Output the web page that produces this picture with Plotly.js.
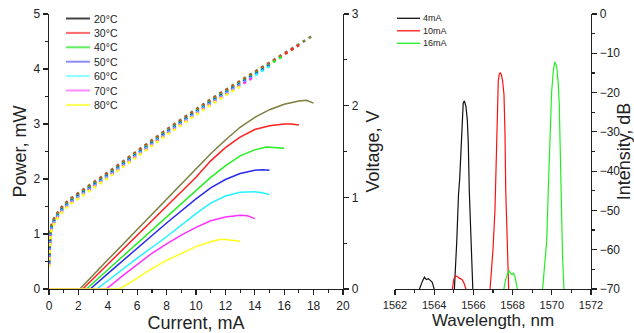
<!DOCTYPE html>
<html>
<head>
<meta charset="utf-8">
<script src="https://cdn.plot.ly/plotly-3.0.1.min.js"></script>
<style>html,body{margin:0;padding:0;background:#fff;}#chart{width:634px;height:333px;}</style>
</head>
<body>
<div id="chart"></div>
<script>
// ---------- Left panel: L-I curves ----------
const temps = ['20°C', '30°C', '40°C', '50°C', '60°C', '70°C', '80°C'];
const curveColors = ['#7d7d3e', '#ff2020', '#22ee22', '#2a2aee', '#22f2ff', '#ff30ff', '#ffff1a'];
const legendColors = ['#444444', '#ff6a6a', '#5fee5f', '#8c8cff', '#8cffff', '#ff8cff', '#ffff55'];

const I_20 = [0, 2.1, 4, 6, 8, 10, 11, 12, 13, 14, 15, 16, 17, 17.5, 18];
const P_20 = [0, 0, 0.53, 1.08, 1.63, 2.19, 2.46, 2.71, 2.94, 3.12, 3.26, 3.36, 3.42, 3.43, 3.38];
const I_30 = [0, 2.3, 4, 6, 8, 10, 11, 12, 13, 14, 15, 16, 16.5, 17];
const P_30 = [0, 0, 0.45, 0.98, 1.51, 2.03, 2.33, 2.57, 2.76, 2.9, 2.97, 3.0, 3.0, 2.98];
const I_40 = [0, 2.55, 4, 6, 8, 10, 11, 12, 13, 14, 14.8, 15.5, 16];
const P_40 = [0, 0, 0.35, 0.83, 1.32, 1.8, 2.03, 2.24, 2.42, 2.53, 2.58, 2.57, 2.56];
const I_50 = [0, 2.8, 4, 6, 8, 10, 11, 12, 13, 14, 14.5, 15];
const P_50 = [0, 0, 0.28, 0.74, 1.2, 1.64, 1.84, 1.99, 2.1, 2.16, 2.17, 2.16];
const I_60 = [0, 3.24, 4, 6, 8, 10, 11, 12, 13, 14, 14.5, 15];
const P_60 = [0, 0, 0.15, 0.56, 0.95, 1.37, 1.56, 1.69, 1.76, 1.77, 1.75, 1.72];
const I_70 = [0, 3.9, 5, 6, 7, 8, 9, 10, 11, 12, 13, 13.5, 14];
const P_70 = [0, 0, 0.24, 0.45, 0.65, 0.82, 0.98, 1.12, 1.24, 1.31, 1.34, 1.33, 1.28];
const I_80 = [0, 4.78, 5.5, 6, 7, 8, 9, 10, 11, 11.6, 12, 13];
const P_80 = [0, 0, 0.11, 0.2, 0.37, 0.52, 0.65, 0.77, 0.86, 0.9, 0.9, 0.87];

// Voltage (V-I) curves
const I_V = [0, 0.05, 0.1, 0.2, 0.4, 0.7, 1, 1.5, 2, 3, 4, 5, 6, 7, 8, 9, 10, 11, 12, 13, 14, 15, 16, 17, 18];
const V_20 = [0.30, 0.55, 0.65, 0.72, 0.79, 0.86, 0.92, 0.99, 1.05, 1.16, 1.27, 1.39, 1.51, 1.63, 1.74, 1.85, 1.96, 2.07, 2.17, 2.27, 2.37, 2.47, 2.57, 2.67, 2.77];
const V_30 = [0.29, 0.54, 0.64, 0.71, 0.78, 0.85, 0.91, 0.98, 1.04, 1.15, 1.26, 1.38, 1.50, 1.62, 1.73, 1.84, 1.95, 2.06, 2.16, 2.26, 2.36, 2.46, 2.56, 2.66];
const V_40 = [0.28, 0.53, 0.63, 0.70, 0.77, 0.84, 0.90, 0.97, 1.03, 1.14, 1.25, 1.37, 1.49, 1.61, 1.72, 1.83, 1.94, 2.05, 2.15, 2.25, 2.35, 2.45, 2.55];
const V_50 = [0.27, 0.52, 0.62, 0.69, 0.76, 0.83, 0.89, 0.96, 1.02, 1.13, 1.24, 1.36, 1.48, 1.60, 1.71, 1.82, 1.93, 2.04, 2.14, 2.24, 2.34, 2.44];
const V_60 = [0.26, 0.51, 0.61, 0.68, 0.75, 0.82, 0.88, 0.95, 1.01, 1.12, 1.23, 1.35, 1.47, 1.59, 1.70, 1.81, 1.92, 2.03, 2.13, 2.23, 2.33, 2.43];
const V_70 = [0.25, 0.50, 0.60, 0.67, 0.74, 0.81, 0.87, 0.94, 1.00, 1.11, 1.22, 1.34, 1.46, 1.58, 1.69, 1.80, 1.91, 2.02, 2.12, 2.22, 2.32];
const V_80 = [0.24, 0.49, 0.59, 0.66, 0.73, 0.80, 0.86, 0.93, 0.99, 1.10, 1.21, 1.33, 1.45, 1.57, 1.68, 1.79, 1.90, 2.01, 2.11, 2.21];

// ---------- Right panel: spectra ----------
const currents = ['4mA', '10mA', '16mA'];
const specColors = ['#111111', '#ff1010', '#22ee22'];
const WL_4 = [1563.1, 1563.25, 1563.4, 1563.5, 1563.6, 1563.7, 1563.8, 1563.9, 1564.0, 1564.1, 1564.9, 1565.03, 1565.15, 1565.2, 1565.24, 1565.3, 1565.4, 1565.48, 1565.54, 1565.62, 1565.69, 1565.74, 1565.79, 1565.88, 1565.97, 1566.1];
const DB_4 = [-74, -70, -68, -67, -67.6, -67.4, -67.8, -68.3, -70, -74, -74, -70, -58, -48, -46, -42, -29, -22.7, -22.1, -23.6, -27, -33, -45, -58, -70, -74];
const WL_10 = [1564.8, 1564.9, 1565.0, 1565.1, 1565.18, 1565.3, 1565.42, 1565.52, 1565.62, 1565.75, 1566.7, 1566.85, 1567.0, 1567.1, 1567.2, 1567.27, 1567.32, 1567.37, 1567.43, 1567.49, 1567.56, 1567.61, 1567.65, 1567.72, 1567.8, 1567.95];
const DB_10 = [-74, -70, -67.5, -66.7, -66.8, -67.3, -67.6, -68.5, -70, -74, -74, -70, -60, -50, -30, -17, -15.3, -14.9, -15.5, -17, -20.5, -30, -45, -60, -70, -74];
const WL_16 = [1567.4, 1567.53, 1567.65, 1567.75, 1567.82, 1567.9, 1567.97, 1568.05, 1568.13, 1568.24, 1568.35, 1569.4, 1569.53, 1569.65, 1569.74, 1569.82, 1569.92, 1569.99, 1570.08, 1570.16, 1570.25, 1570.33, 1570.38, 1570.42, 1570.47, 1570.55, 1570.62, 1570.75];
const DB_16 = [-74, -70, -67.5, -66, -65.4, -66, -66.3, -66, -67, -70, -74, -74, -70, -63, -58, -45, -30, -20, -14.3, -12.2, -13.4, -17.6, -23, -32, -50, -62, -70, -74];

const FONT = 'Liberation Sans, Arial, sans-serif';

const LI_I = [I_20, I_30, I_40, I_50, I_60, I_70, I_80];
const LI_P = [P_20, P_30, P_40, P_50, P_60, P_70, P_80];
const VI_V = [V_20, V_30, V_40, V_50, V_60, V_70, V_80];
const WLs = [WL_4, WL_10, WL_16];
const DBs = [DB_4, DB_10, DB_16];

const traces = [];
VI_V.forEach((v, i) => {
  traces.push({
    x: I_V.slice(0, v.length), y: v, xaxis: 'x', yaxis: 'y2', type: 'scatter', mode: 'lines',
    line: {color: curveColors[i], width: 2.6, dash: '3px,4px'}, showlegend: false, hoverinfo: 'skip'
  });
});
LI_I.forEach((xs, i) => {
  traces.push({
    x: xs, y: LI_P[i], xaxis: 'x', yaxis: 'y', type: 'scatter', mode: 'lines',
    line: {color: curveColors[i], width: 1.5}, name: temps[i], showlegend: false
  });
});
WLs.forEach((xs, i) => {
  traces.push({
    x: xs, y: DBs[i], xaxis: 'x3', yaxis: 'y3', type: 'scatter', mode: 'lines',
    line: {color: specColors[i], width: 1.2}, name: currents[i], showlegend: false
  });
});

// Manual legends (shapes + annotations, in pixel-derived paper coords)
const W = 634, H = 333;
const shapes = [], annotations = [];
temps.forEach((t, i) => {
  const yp = 1 - (18.5 + 14.4 * i) / H;
  shapes.push({type: 'line', xref: 'paper', yref: 'paper', x0: 66 / W, x1: 90 / W, y0: yp, y1: yp,
    line: {color: legendColors[i], width: 2}});
  annotations.push({xref: 'paper', yref: 'paper', x: 92 / W, y: yp, xanchor: 'left', yanchor: 'middle',
    text: t, showarrow: false, font: {family: FONT, size: 10.5, color: '#222'}});
});
currents.forEach((c, i) => {
  const yp = 1 - (18.3 + 12.5 * i) / H;
  shapes.push({type: 'line', xref: 'paper', yref: 'paper', x0: 397 / W, x1: 420 / W, y0: yp, y1: yp,
    line: {color: specColors[i], width: 1.3}});
  annotations.push({xref: 'paper', yref: 'paper', x: 421 / W, y: yp, xanchor: 'left', yanchor: 'middle',
    text: c, showarrow: false, font: {family: FONT, size: 9, color: '#222'}});
});

const yDom = [44 / H, 319 / H];
const axBase = {
  showline: true, linecolor: '#222', linewidth: 1.3, ticks: 'outside', tickcolor: '#222', tickwidth: 1.2,
  ticklen: 5, showgrid: false, zeroline: false, automargin: false,
  tickfont: {family: FONT, size: 12, color: '#222'}
};

const layout = {
  width: W, height: H, margin: {l: 0, r: 0, t: 0, b: 0},
  paper_bgcolor: '#fff', plot_bgcolor: 'rgba(0,0,0,0)', showlegend: false,
  font: {family: FONT, color: '#222'},
  xaxis: Object.assign({}, axBase, {domain: [49 / W, 343 / W], range: [0, 20], dtick: 2, anchor: 'y',
    minor: {dtick: 1, ticks: 'outside', ticklen: 3, tickcolor: '#222'},
    title: {text: 'Current, mA', font: {family: FONT, size: 18, color: '#222'}, standoff: 2}}),
  yaxis: Object.assign({}, axBase, {domain: yDom, range: [0, 5], dtick: 1, anchor: 'x',
    minor: {dtick: 0.5, ticks: 'outside', ticklen: 3, tickcolor: '#222'},
    title: {text: 'Power, mW', font: {family: FONT, size: 18, color: '#222'}, standoff: 2}}),
  yaxis2: Object.assign({}, axBase, {overlaying: 'y', side: 'right', range: [0, 3], dtick: 1, anchor: 'x',
    minor: {dtick: 0.5, ticks: 'outside', ticklen: 3, tickcolor: '#222'},
    title: {text: 'Voltage, V', font: {family: FONT, size: 18, color: '#222'}, standoff: 8}}),
  xaxis3: Object.assign({}, axBase, {domain: [395 / W, 591 / W], range: [1562, 1572], dtick: 2, anchor: 'y3',
    tickfont: {family: FONT, size: 11, color: '#222'},
    minor: {dtick: 1, ticks: 'outside', ticklen: 3, tickcolor: '#222'},
    title: {text: 'Wavelength, nm', font: {family: FONT, size: 17, color: '#222'}, standoff: 2}}),
  yaxis3: Object.assign({}, axBase, {domain: yDom, range: [-70, 0], dtick: 10, side: 'right', anchor: 'x3',
    minor: {dtick: 5, ticks: 'outside', ticklen: 3, tickcolor: '#222'},
    title: {text: 'Intensity, dB', font: {family: FONT, size: 18, color: '#222'}, standoff: 8}}),
  shapes: shapes, annotations: annotations
};

Plotly.newPlot('chart', traces, layout, {staticPlot: true, displayModeBar: false});
</script>
</body>
</html>
